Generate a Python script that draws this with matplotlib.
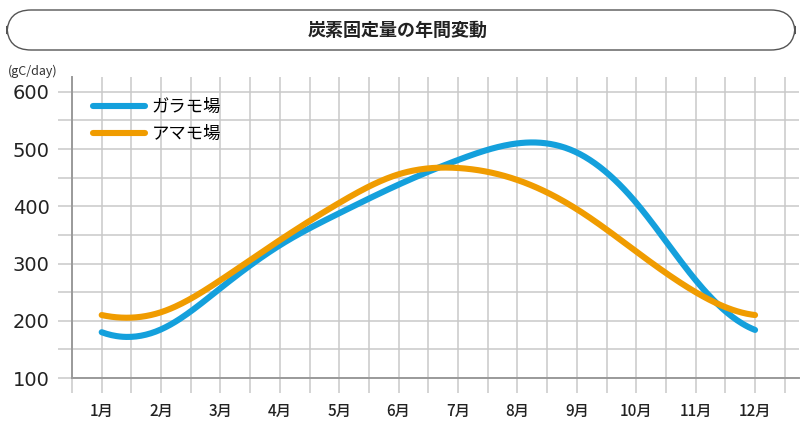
import numpy as np
import matplotlib.pyplot as plt
from matplotlib.patches import FancyBboxPatch

plt.rcParams['font.family'] = ['Noto Sans CJK JP', 'DejaVu Sans']

months = np.arange(1, 13)
month_labels = [f"{m}月" for m in months]
garamo = [180, 185, 257, 332, 388, 438, 481, 510, 494, 406, 271, 184]
amamo = [210, 215, 271, 341, 406, 456, 467, 446, 395, 321, 250, 210]

BLUE = '#14a0dc'
ORANGE = '#f09c00'
GRID = '#c9c9c9'


def clamped_spline(x, y, s0, s1, n=400):
    # cubic spline through the monthly values with fixed end slopes
    x = np.asarray(x, float)
    y = np.asarray(y, float)
    k = len(x)
    h = np.diff(x)
    A = np.zeros((k, k))
    r = np.zeros(k)
    A[0, 0], A[0, 1] = 2 * h[0], h[0]
    r[0] = 6 * ((y[1] - y[0]) / h[0] - s0)
    A[-1, -2], A[-1, -1] = h[-1], 2 * h[-1]
    r[-1] = 6 * (s1 - (y[-1] - y[-2]) / h[-1])
    for i in range(1, k - 1):
        A[i, i - 1] = h[i - 1]
        A[i, i] = 2 * (h[i - 1] + h[i])
        A[i, i + 1] = h[i]
        r[i] = 6 * ((y[i + 1] - y[i]) / h[i] - (y[i] - y[i - 1]) / h[i - 1])
    M = np.linalg.solve(A, r)
    xs = np.linspace(x[0], x[-1], n)
    j = np.clip(np.searchsorted(x, xs) - 1, 0, k - 2)
    t0 = x[j + 1] - xs
    t1 = xs - x[j]
    hj = h[j]
    ys = (M[j] * t0 ** 3 + M[j + 1] * t1 ** 3) / (6 * hj) \
        + (y[j] / hj - M[j] * hj / 6) * t0 + (y[j + 1] / hj - M[j + 1] * hj / 6) * t1
    return xs, ys


fig = plt.figure(figsize=(8.01, 4.22), dpi=100)
W, H = 801, 422

# title box
tb = FancyBboxPatch((7 / W, (H - 50) / H), 788 / W, 40 / H,
                    boxstyle="round,pad=0,rounding_size=0.03",
                    transform=fig.transFigure, facecolor='white',
                    edgecolor='#555555', linewidth=1.0, mutation_aspect=1.9)
fig.patches.append(tb)
fig.text(398 / W, (H - 30) / H, "炭素固定量の年間変動", ha='center', va='center',
         fontsize=13, fontweight='bold', color='#222222')

ax = fig.add_axes([72 / W, 44 / H, 727 / W, 301 / H])
ax.set_xlim(0.5, 12.74)
ax.set_ylim(100, 626)

series = [(garamo, BLUE, 'ガラモ場', -38, -40),
          (amamo, ORANGE, 'アマモ場', -22, -12)]
for vals, color, label, s0, s1 in series:
    xs, ys = clamped_spline(months, vals, s0, s1)
    ax.plot(xs, ys, color=color, lw=4.4, solid_capstyle='round', label=label,
            zorder=3)

ax.set_xticks(months)
ax.set_xticks(np.arange(0.5, 13, 1.0), minor=True)
ax.set_xticklabels(month_labels, fontsize=11, fontweight='medium',
                   color='#222222')
ax.set_yticks([100, 200, 300, 400, 500, 600])
ax.set_yticks([150, 250, 350, 450, 550], minor=True)
ax.set_yticklabels(['100', '200', '300', '400', '500', '600'],
                   fontsize=14, family='DejaVu Sans', color='#222222')

ax.grid(True, which='both', color=GRID, lw=1.1, zorder=0)
ax.tick_params(axis='x', which='both', direction='out', length=11,
               color=GRID, width=1.1, pad=7)
ax.tick_params(axis='y', which='both', direction='out', length=10,
               color=GRID, width=1.1, pad=6)
for side in ['top', 'right']:
    ax.spines[side].set_visible(False)
for side in ['left', 'bottom']:
    ax.spines[side].set_color('#9a9a9a')
    ax.spines[side].set_linewidth(1.4)
ax.set_axisbelow(True)

fig.text(8 / W, (H - 71) / H, "(gC/day)", fontsize=9, color='#333333',
         va='center', ha='left')

ax.legend(loc='upper left', bbox_to_anchor=(0.0, 1.0), frameon=False,
          fontsize=12.5, handlelength=3.0, handletextpad=0.4, labelspacing=0.55,
          borderaxespad=0.8)

fig.savefig('out.png', dpi=100)
